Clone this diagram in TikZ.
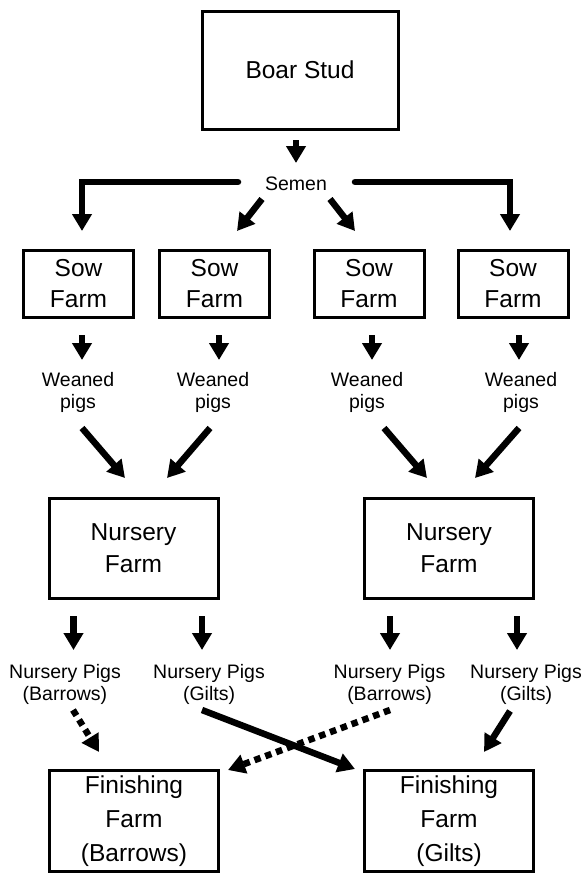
\documentclass[tikz,border=0pt]{standalone}
\usepackage{fontspec}
\setmainfont{Liberation Sans}
\usetikzlibrary{arrows.meta}

\begin{document}
\begin{tikzpicture}[x=1pt,y=-1pt,
  box/.style={draw=black, line width=3pt, inner sep=0pt, align=center},
  bigtext/.style={font=\fontsize{24.5}{31}\selectfont},
  sowbox/.style={box, bigtext, minimum width=110pt, minimum height=67pt},
  farmbox/.style={box, minimum width=169pt, minimum height=100pt,
    font=\fontsize{24.5}{34}\selectfont},
  lbl/.style={inner sep=0pt, align=center, font=\fontsize{19.5}{22}\selectfont},
  tip/.style={-{Triangle[width=19pt,length=17pt]}},
  arr/.style={tip, line width=6.5pt},
  darr/.style={arr, dash pattern=on 6.5pt off 5pt},
  bracket/.style={arr, line cap=round, line join=miter},
]
\useasboundingbox (0,0) rectangle (584,873);

% ---- boxes ----
\node[box, bigtext, minimum width=196pt, minimum height=118pt] (boar) at (300,70) {Boar Stud};

\node[sowbox] (sow1) at (78.5,284) {Sow\\Farm};
\node[sowbox] (sow2) at (214.5,284) {Sow\\Farm};
\node[sowbox] (sow3) at (369,284) {Sow\\Farm};
\node[sowbox] (sow4) at (513,284) {Sow\\Farm};

\node[farmbox, font=\fontsize{24.5}{32}\selectfont] (nur1) at (133.5,548) {Nursery\\Farm};
\node[farmbox, font=\fontsize{24.5}{32}\selectfont] (nur2) at (449,548) {Nursery\\Farm};

\node[farmbox, minimum height=101pt] (fin1) at (134,821) {Finishing\\Farm\\(Barrows)};
\node[farmbox, minimum height=101pt] (fin2) at (449,821) {Finishing\\Farm\\(Gilts)};

% ---- labels ----
\node[lbl] (semen) at (296,183.5) {Semen};

\node[lbl] (wp1) at (78,392.5) {Weaned\\pigs};
\node[lbl] (wp2) at (213,392.5) {Weaned\\pigs};
\node[lbl] (wp3) at (367,392.5) {Weaned\\pigs};
\node[lbl] (wp4) at (521,392.5) {Weaned\\pigs};

\node[lbl] (np1) at (65,684) {Nursery Pigs\\(Barrows)};
\node[lbl] (np2) at (209,684) {Nursery Pigs\\(Gilts)};
\node[lbl] (np3) at (389.5,684) {Nursery Pigs\\(Barrows)};
\node[lbl] (np4) at (526,684) {Nursery Pigs\\(Gilts)};

% ---- connector end points ----
\coordinate (boarOut) at (296,140);
\coordinate (semenIn) at (296,163);

\coordinate (semL) at (238,182);
\coordinate (cornerL) at (82,182);
\coordinate (toSow1) at (82,231);
\coordinate (semR) at (355,182);
\coordinate (cornerR) at (510,182);
\coordinate (toSow4) at (510,231);
\coordinate (semDL) at (262,199);
\coordinate (toSow2) at (237,231);
\coordinate (semDR) at (330,199);
\coordinate (toSow3) at (355,231);

\coordinate (s1out) at (82,335);   \coordinate (w1in) at (82,360);
\coordinate (s2out) at (219,335);  \coordinate (w2in) at (219,360);
\coordinate (s3out) at (372,335);  \coordinate (w3in) at (372,360);
\coordinate (s4out) at (519,335);  \coordinate (w4in) at (519,360);

\coordinate (w1out) at (82,428);   \coordinate (n1inL) at (125,478);
\coordinate (w2out) at (210,428);  \coordinate (n1inR) at (167,478);
\coordinate (w3out) at (384,428);  \coordinate (n2inL) at (427,478);
\coordinate (w4out) at (519,428);  \coordinate (n2inR) at (475,478);

\coordinate (n1outL) at (73.5,616); \coordinate (p1in) at (73.5,650);
\coordinate (n1outR) at (202,616);  \coordinate (p2in) at (202,650);
\coordinate (n2outL) at (390,616);  \coordinate (p3in) at (390,650);
\coordinate (n2outR) at (517,616);  \coordinate (p4in) at (517,650);

\coordinate (p1out) at (73,710);   \coordinate (f1inA) at (99,752);
\coordinate (p3out) at (390,710);  \coordinate (f1inB) at (228,770);
\coordinate (p2out) at (202,710);  \coordinate (f2inA) at (355,769);
\coordinate (p4out) at (510,711);  \coordinate (f2inB) at (484,752);

% ---- connectors ----
\draw[arr] (boarOut) -- (semenIn);

\draw[bracket] (semL) -- (cornerL) -- (toSow1);
\draw[bracket] (semR) -- (cornerR) -- (toSow4);
\draw[arr] (semDL) -- (toSow2);
\draw[arr] (semDR) -- (toSow3);

\draw[arr] (s1out) -- (w1in);
\draw[arr] (s2out) -- (w2in);
\draw[arr] (s3out) -- (w3in);
\draw[arr] (s4out) -- (w4in);

\draw[arr] (w1out) -- (n1inL);
\draw[arr] (w2out) -- (n1inR);
\draw[arr] (w3out) -- (n2inL);
\draw[arr] (w4out) -- (n2inR);

\draw[arr] (n1outL) -- (p1in);
\draw[arr] (n1outR) -- (p2in);
\draw[arr] (n2outL) -- (p3in);
\draw[arr] (n2outR) -- (p4in);

\draw[darr] (p1out) -- (f1inA);
\draw[darr] (p3out) -- (f1inB);
\draw[arr] (p2out) -- (f2inA);
\draw[arr] (p4out) -- (f2inB);
\end{tikzpicture}
\end{document}
